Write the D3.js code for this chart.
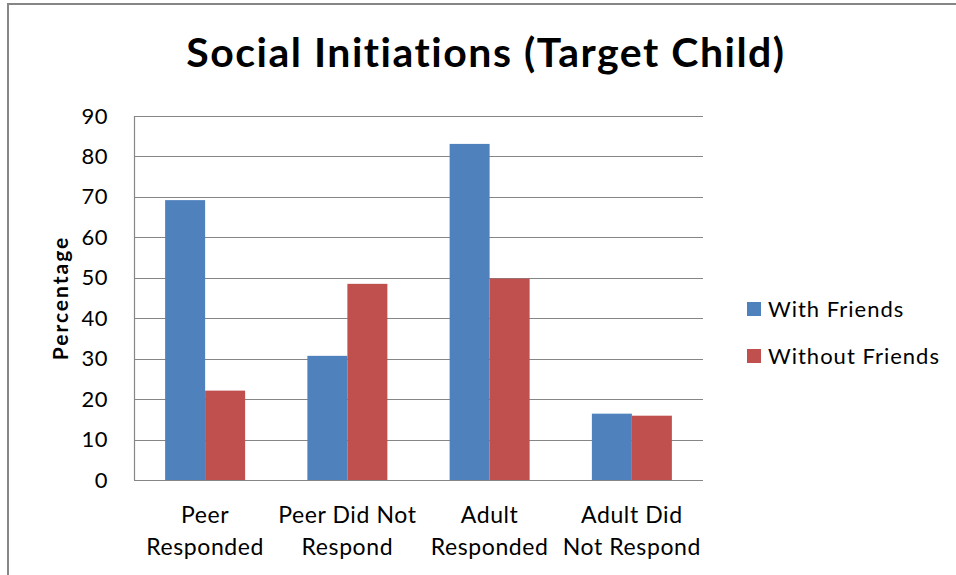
<!DOCTYPE html>
<html>
<head>
<meta charset="utf-8">
<script src="https://cdn.jsdelivr.net/npm/d3@7"></script>
<style>
  body { margin: 0; background: #fff; }
  svg { display: block; font-family: Lato, 'Open Sans', sans-serif; }
</style>
</head>
<body>
<div id="chart"></div>
<script>
// data
const categories = [['Peer', 'Responded'], ['Peer Did Not', 'Respond'], ['Adult', 'Responded'], ['Adult Did', 'Not Respond']]
const seriesNames = ['With Friends', 'Without Friends']
const withFriends = [69.2, 30.7, 83.1, 16.4]
const withoutFriends = [22.1, 48.5, 49.8, 15.9]
const yTicks = [0, 10, 20, 30, 40, 50, 60, 70, 80, 90]
const colors = ['#4F81BD', '#C0504D']

const width = 956
const height = 575
const plot = { left: 134, right: 703, top: 116, bottom: 480 }
const grey = '#868686'

const svg = d3.select('#chart').append('svg')
  .attr('width', width)
  .attr('height', height)

// outer frame (only top and left edges show)
svg.append('path')
  .attr('d', 'M8,' + height + ' V4 H' + width)
  .attr('fill', 'none')
  .attr('stroke', grey)
  .attr('stroke-width', 2)

svg.append('text')
  .attr('x', 486)
  .attr('y', 67)
  .attr('text-anchor', 'middle')
  .attr('font-size', 41)
  .attr('font-weight', 'bold')
  .attr('letter-spacing', 1.5)
  .text('Social Initiations (Target Child)')

let y = d3.scaleLinear()
  .domain([0, 90])
  .range([plot.bottom, plot.top])

let catKeys = categories.map((c) => c.join(' '))

let x0 = d3.scaleBand()
  .domain(catKeys)
  .range([plot.left, plot.right])
  .paddingInner(0.4376)
  .paddingOuter(0.2188)

let x1 = d3.scaleBand()
  .domain(seriesNames)
  .range([0, x0.bandwidth()])

// gridlines
svg.append('g')
  .selectAll('line')
  .data(yTicks)
  .enter()
  .append('line')
  .attr('x1', plot.left)
  .attr('x2', plot.right)
  .attr('y1', (d) => Math.round(y(d)) + 0.5)
  .attr('y2', (d) => Math.round(y(d)) + 0.5)
  .attr('stroke', grey)
  .attr('stroke-width', 1.2)

// bars
let rows = catKeys.map((k, i) => ({ key: k, values: [withFriends[i], withoutFriends[i]] }))

svg.append('g')
  .selectAll('g')
  .data(rows)
  .enter()
  .append('g')
  .attr('transform', (d) => 'translate(' + x0(d.key) + ',0)')
  .selectAll('rect')
  .data((d) => d.values.map((v, j) => ({ name: seriesNames[j], value: v, color: colors[j] })))
  .enter()
  .append('rect')
  .attr('x', (d) => x1(d.name))
  .attr('width', x1.bandwidth())
  .attr('y', (d) => y(d.value))
  .attr('height', (d) => y(0) - y(d.value))
  .attr('fill', (d) => d.color)

// value axis line
svg.append('line')
  .attr('x1', plot.left + 0.5)
  .attr('x2', plot.left + 0.5)
  .attr('y1', plot.top)
  .attr('y2', plot.bottom)
  .attr('stroke', grey)
  .attr('stroke-width', 1.2)

let yAxis = svg.append('g')
  .attr('transform', 'translate(' + plot.left + ',0)')
  .call(d3.axisLeft(y).tickValues(yTicks).tickSize(0).tickPadding(26))

yAxis.select('.domain').remove()
yAxis.selectAll('text')
  .attr('font-family', 'Lato, sans-serif')
  .attr('font-size', 22)
  .attr('letter-spacing', 0.5)
  .attr('fill', '#000')

svg.append('text')
  .attr('transform', 'translate(68,298) rotate(-90)')
  .attr('text-anchor', 'middle')
  .attr('font-size', 21)
  .attr('font-weight', 'bold')
  .attr('letter-spacing', 2)
  .text('Percentage')

// category labels (two lines each)
let catLabels = svg.append('g')
  .selectAll('text')
  .data(categories)
  .enter()
  .append('text')
  .attr('text-anchor', 'middle')
  .attr('font-size', 23)
  .attr('letter-spacing', 0.6)
  .attr('x', (d, i) => x0(catKeys[i]) + x0.bandwidth() / 2)
  .attr('y', 523)

catLabels.selectAll('tspan')
  .data((d) => d)
  .enter()
  .append('tspan')
  .attr('x', function () { return this.parentNode.getAttribute('x') })
  .attr('dy', (d, i) => i ? 32 : 0)
  .text((d) => d)

// legend
let legend = svg.append('g')
  .selectAll('g')
  .data(seriesNames)
  .enter()
  .append('g')
  .attr('transform', (d, i) => 'translate(747,' + (302 + i * 47) + ')')

legend.append('rect')
  .attr('width', 14)
  .attr('height', 14)
  .attr('fill', (d, i) => colors[i])

legend.append('text')
  .attr('x', 21)
  .attr('y', 15)
  .attr('font-size', 22)
  .attr('letter-spacing', 1)
  .text((d) => d)
</script>
</body>
</html>
